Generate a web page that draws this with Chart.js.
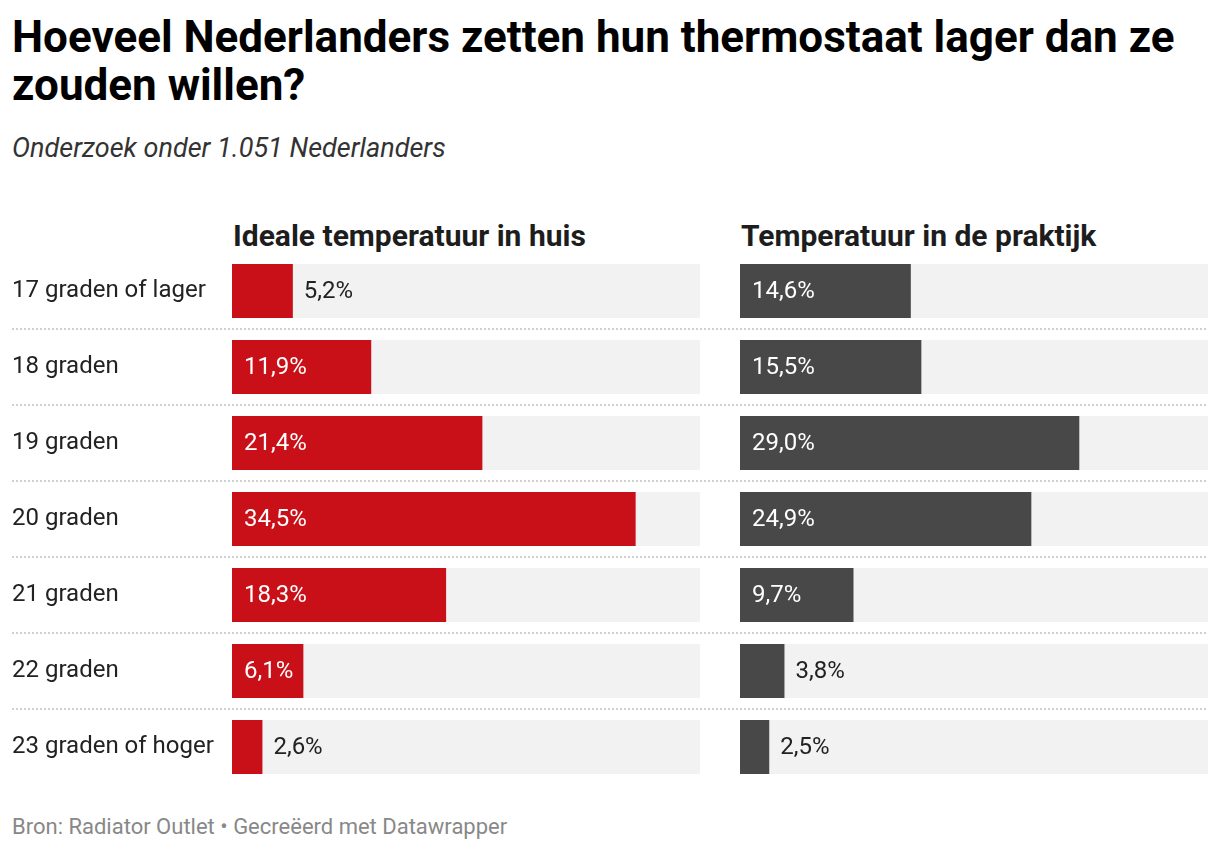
<!DOCTYPE html>
<html>
<head>
<meta charset="utf-8">
<script src="https://cdn.jsdelivr.net/npm/chart.js@4"></script>
<style>
  body { margin: 0; background: #fff; font-family: Roboto, sans-serif; }
  .abs { position: absolute; white-space: nowrap; }
  #title { left: 12px; top: 13px; font-size: 44px; line-height: 48px; font-weight: 700; color: #000; white-space: normal; width: 1200px; }
  #sub { left: 12px; top: 132px; font-size: 27px; line-height: 32px; font-style: italic; color: #333; }
  .head { top: 218px; font-size: 30px; line-height: 36px; font-weight: 700; color: #1d1d1d; }
  #foot { left: 12px; top: 814px; font-size: 22px; line-height: 26px; color: #888; }
  .box { position: absolute; top: 253px; height: 532px; }
</style>
</head>
<body>
<div id="title" class="abs">Hoeveel Nederlanders zetten hun thermostaat lager dan ze zouden willen?</div>
<div id="sub" class="abs">Onderzoek onder 1.051 Nederlanders</div>
<div class="abs head" style="left:233px">Ideale temperatuur in huis</div>
<div class="abs head" style="left:741px">Temperatuur in de praktijk</div>
<div class="box" style="left:0;width:720px"><canvas id="left"></canvas></div>
<div class="box" style="left:720px;width:500px"><canvas id="right"></canvas></div>
<div id="foot" class="abs">Bron: Radiator Outlet • Gecreëerd met Datawrapper</div>

<script>
const categories = ['17 graden of lager', '18 graden', '19 graden', '20 graden', '21 graden', '22 graden', '23 graden of hoger'];
const ideaal = [5.2, 11.9, 21.4, 34.5, 18.3, 6.1, 2.6];
const praktijk = [14.6, 15.5, 29.0, 24.9, 9.7, 3.8, 2.5];
const xMax = 40;

const fmt = v => v.toFixed(1).replace('.', ',') + '%';

// grey track behind each bar, dotted separators, value labels
const barDecor = {
  id: 'barDecor',
  beforeDatasetsDraw(chart, args, opts) {
    const ctx = chart.ctx;
    const xs = chart.scales.x, ys = chart.scales.y;
    const meta = chart.getDatasetMeta(0);
    ctx.save();
    // separators
    ctx.strokeStyle = '#d0d0d0';
    ctx.lineWidth = 2;
    ctx.setLineDash([2, 2]);
    for (let i = 1; i < categories.length; i++) {
      const y = Math.round((ys.getPixelForValue(i - 1) + ys.getPixelForValue(i)) / 2);
      ctx.beginPath();
      ctx.moveTo(opts.lineFrom, y);
      ctx.lineTo(opts.lineTo, y);
      ctx.stroke();
    }
    ctx.setLineDash([]);
    ctx.fillStyle = '#f2f2f2';
    meta.data.forEach(el => {
      ctx.fillRect(xs.left, el.y - el.height / 2, xs.right - xs.left, el.height);
    });
    ctx.restore();
  },
  afterDatasetsDraw(chart) {
    const ctx = chart.ctx;
    const meta = chart.getDatasetMeta(0);
    const data = chart.data.datasets[0].data;
    ctx.save();
    ctx.font = '24px Roboto';
    ctx.textBaseline = 'middle';
    ctx.textAlign = 'left';
    meta.data.forEach((el, i) => {
      const txt = fmt(data[i]);
      const w = ctx.measureText(txt).width;
      const barW = el.x - el.base;
      if (w + 18 < barW) {
        ctx.fillStyle = '#fff';
        ctx.fillText(txt, el.base + 12, el.y + 1);
      } else {
        ctx.fillStyle = '#222';
        ctx.fillText(txt, el.x + 11, el.y + 1);
      }
    });
    ctx.restore();
  }
};

function makeChart(id, values, color, showLabels, padding, lineFrom, lineTo) {
  return new Chart(document.getElementById(id), {
    type: 'bar',
    data: {
      labels: categories,
      datasets: [{
        data: values,
        backgroundColor: color,
        borderWidth: 0,
        barPercentage: 1,
        categoryPercentage: 54 / 76
      }]
    },
    options: {
      indexAxis: 'y',
      responsive: true,
      maintainAspectRatio: false,
      animation: false,
      layout: { padding: padding },
      plugins: {
        legend: { display: false },
        tooltip: { enabled: false },
        barDecor: { lineFrom: lineFrom, lineTo: lineTo }
      },
      scales: {
        x: { display: false, min: 0, max: xMax },
        y: {
          display: showLabels,
          grid: { display: false },
          border: { display: false },
          ticks: {
            crossAlign: 'far',
            color: '#222',
            font: { family: 'Roboto', size: 24 }
          },
          afterFit(scale) {
            if (!showLabels) return;
            scale.width = 220;
            scale.paddingTop = 0;
            scale.paddingBottom = 0;
          }
        }
      }
    },
    plugins: [barDecor]
  });
}

makeChart('left', ideaal, '#c91019', true, { left: 12, right: 20, top: 0, bottom: 0 }, 12, 720);
makeChart('right', praktijk, '#484848', false, { left: 20, right: 12, top: 0, bottom: 0 }, 0, 488);
</script>
</body>
</html>
